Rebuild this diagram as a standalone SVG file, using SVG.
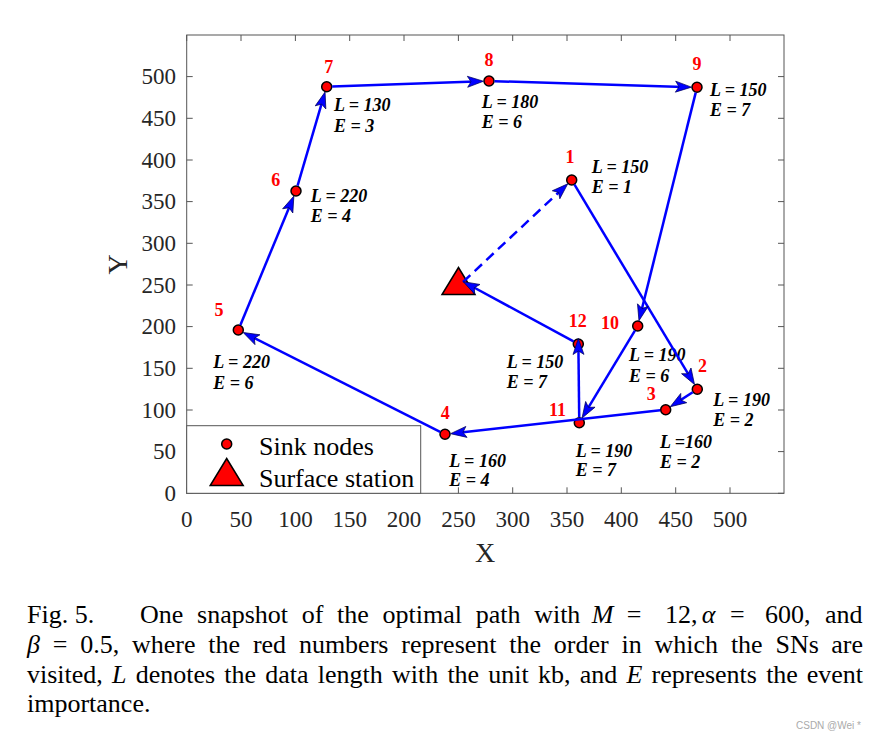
<svg xmlns="http://www.w3.org/2000/svg" width="875" height="740" viewBox="0 0 875 740">
<style>
.tick{stroke:#555;stroke-width:1;fill:none}
.tl{font-family:"Liberation Serif",serif;font-size:23px;fill:#262626}
.ax{font-family:"Liberation Serif",serif;font-size:28px;fill:#262626}
.lab{font-family:"Liberation Serif",serif;font-size:18px;font-weight:bold;font-style:italic;fill:#000}
.num{font-family:"Liberation Serif",serif;font-size:18px;font-weight:bold;fill:#ff0000;text-anchor:middle}
.node{fill:#ff0000;stroke:#000;stroke-width:1.5}
.conn{stroke:#0000ff;stroke-width:2.5;fill:none;marker-end:url(#ah)}
.leg{font-family:"Liberation Serif",serif;font-size:26px;fill:#000}
.cap{font-family:"Liberation Serif",serif;font-size:26px;fill:#000}
</style>
<defs>
<marker id="ah" markerUnits="userSpaceOnUse" viewBox="0 0 16 11" markerWidth="16" markerHeight="11" refX="8" refY="5.5" orient="auto" overflow="visible">
<path d="M0,0 L16,5.5 L0,11 L3.5,5.5 Z" fill="#0000ff" stroke="#00005a" stroke-width="0.7"/>
</marker>
</defs>
<rect width="875" height="740" fill="#fff"/>
<g id="axes">
<rect x="186.7" y="35" width="597.3" height="458.3" fill="#fff" stroke="#555" stroke-width="1"/>
<path class="tick" d="M186.7,493.3v-6M241,493.3v-6M295.4,493.3v-6M349.7,493.3v-6M404,493.3v-6M458.4,493.3v-6M512.7,493.3v-6M567,493.3v-6M621.3,493.3v-6M675.7,493.3v-6M730,493.3v-6
M186.7,35v6M241,35v6M295.4,35v6M349.7,35v6M404,35v6M458.4,35v6M512.7,35v6M567,35v6M621.3,35v6M675.7,35v6M730,35v6
M186.7,493.3h6M186.7,451.6h6M186.7,410h6M186.7,368.3h6M186.7,326.6h6M186.7,285h6M186.7,243.3h6M186.7,201.6h6M186.7,160h6M186.7,118.3h6M186.7,76.6h6
M784,493.3h-6M784,451.6h-6M784,410h-6M784,368.3h-6M784,326.6h-6M784,285h-6M784,243.3h-6M784,201.6h-6M784,160h-6M784,118.3h-6M784,76.6h-6"/>
<g class="tl" text-anchor="middle">
<text x="186.7" y="526.5">0</text><text x="241" y="526.5">50</text><text x="295.4" y="526.5">100</text><text x="349.7" y="526.5">150</text><text x="404" y="526.5">200</text><text x="458.4" y="526.5">250</text><text x="512.7" y="526.5">300</text><text x="567" y="526.5">350</text><text x="621.3" y="526.5">400</text><text x="675.7" y="526.5">450</text><text x="730" y="526.5">500</text>
</g>
<g class="tl" text-anchor="end">
<text x="176" y="501">0</text><text x="176" y="459.3">50</text><text x="176" y="417.7">100</text><text x="176" y="376">150</text><text x="176" y="334.3">200</text><text x="176" y="292.7">250</text><text x="176" y="251">300</text><text x="176" y="209.3">350</text><text x="176" y="167.7">400</text><text x="176" y="126">450</text><text x="176" y="84.3">500</text>
</g>
<text class="ax" x="485" y="562" text-anchor="middle">X</text>
<text class="ax" text-anchor="middle" transform="translate(127,264.5) rotate(-90)">Y</text>
</g>
<g id="station"><polygon points="458.5,267.5 442,294.5 475,294.5" class="node"/></g>
<g id="n1"><circle cx="571.7" cy="180" r="5" class="node"/><text class="num" x="570" y="163.3">1</text><text class="lab" x="591.7" y="172.7">L = 150</text><text class="lab" x="591.7" y="193.3">E = 1</text></g>
<g id="n2"><circle cx="697.3" cy="389.3" r="5" class="node"/><text class="num" x="702.5" y="372.3">2</text><text class="lab" x="713.3" y="405.7">L = 190</text><text class="lab" x="713.3" y="426">E = 2</text></g>
<g id="n3"><circle cx="665.7" cy="409.7" r="5" class="node"/><text class="num" x="651.2" y="400">3</text><text class="lab" x="660" y="448.3">L =160</text><text class="lab" x="660" y="468.3">E = 2</text></g>
<g id="n4"><circle cx="445" cy="434.3" r="5" class="node"/><text class="num" x="445.3" y="419.3">4</text><text class="lab" x="449.3" y="466.7">L = 160</text><text class="lab" x="449.3" y="486">E = 4</text></g>
<g id="n5"><circle cx="238.3" cy="330" r="5" class="node"/><text class="num" x="219" y="316">5</text><text class="lab" x="213.3" y="368.3">L = 220</text><text class="lab" x="213.3" y="389">E = 6</text></g>
<g id="n6"><circle cx="296" cy="191" r="5" class="node"/><text class="num" x="275.8" y="186">6</text><text class="lab" x="310.7" y="201.7">L = 220</text><text class="lab" x="310.7" y="221.7">E = 4</text></g>
<g id="n7"><circle cx="326.7" cy="86.7" r="5" class="node"/><text class="num" x="328.7" y="72.7">7</text><text class="lab" x="334" y="111">L = 130</text><text class="lab" x="334" y="131.7">E = 3</text></g>
<g id="n8"><circle cx="489" cy="81" r="5" class="node"/><text class="num" x="489" y="66">8</text><text class="lab" x="481.7" y="108.3">L = 180</text><text class="lab" x="481.7" y="128.3">E = 6</text></g>
<g id="n9"><circle cx="697" cy="87.3" r="5" class="node"/><text class="num" x="697" y="70">9</text><text class="lab" x="710" y="95.7">L = 150</text><text class="lab" x="710" y="116">E = 7</text></g>
<g id="n10"><circle cx="637.7" cy="326" r="5" class="node"/><text class="num" x="610" y="329">10</text><text class="lab" x="629" y="360.7">L = 190</text><text class="lab" x="629" y="381.7">E = 6</text></g>
<g id="n11"><circle cx="579.3" cy="422.7" r="5" class="node"/><text class="num" x="557.5" y="416">11</text><text class="lab" x="575.7" y="456.7">L = 190</text><text class="lab" x="575.7" y="476">E = 7</text></g>
<g id="n12"><circle cx="578.3" cy="344" r="5" class="node"/><text class="num" x="577.7" y="327.3">12</text><text class="lab" x="506.7" y="368.3">L = 150</text><text class="lab" x="506.7" y="388.3">E = 7</text></g>
<g id="connectors">
<line class="conn" x1="463" y1="282" x2="561.9" y2="189.3" stroke-dasharray="10 6"/>
<line class="conn" x1="574.5" y1="184.7" x2="690.4" y2="377.7"/>
<line class="conn" x1="692.7" y1="392.3" x2="677" y2="402.4"/>
<line class="conn" x1="660.2" y1="410.3" x2="458.5" y2="432.8"/>
<line class="conn" x1="440.1" y1="431.8" x2="250.3" y2="336.1"/>
<line class="conn" x1="240.4" y1="324.9" x2="290.8" y2="203.5"/>
<line class="conn" x1="297.6" y1="185.7" x2="322.8" y2="99.7"/>
<line class="conn" x1="332.2" y1="86.5" x2="475.5" y2="81.5"/>
<line class="conn" x1="494.5" y1="81.2" x2="683.5" y2="86.9"/>
<line class="conn" x1="695.7" y1="92.6" x2="640.9" y2="312.9"/>
<line class="conn" x1="634.9" y1="330.7" x2="586.2" y2="411.2"/>
<line class="conn" x1="579.2" y1="417.2" x2="578.4" y2="346.5"/>
<line class="conn" x1="573.5" y1="341.4" x2="470.3" y2="285.5"/>
</g>
<g id="legend">
<rect x="186.7" y="425.7" width="234" height="67.6" fill="#fff" stroke="#555" stroke-width="1"/>
<circle cx="226.7" cy="444" r="5" class="node"/>
<polygon points="226.7,458.5 210.2,485.5 243.2,485.5" class="node"/>
<text class="leg" x="259" y="454.5">Sink nodes</text>
<text class="leg" x="259" y="487">Surface station</text>
</g>
<g id="caption" class="cap">
<text x="27" y="623.3">Fig. 5.</text>
<text x="140" y="623.3" word-spacing="7.2">One snapshot of the optimal path with</text>
<text y="623.3"><tspan x="591.7" font-style="italic">M</tspan><tspan x="626.7">=</tspan><tspan x="665">12,</tspan><tspan x="701.7" font-style="italic">α</tspan><tspan x="730">=</tspan><tspan x="765">600,</tspan><tspan x="825">and</tspan></text>
<text x="27" y="653.3" word-spacing="6.3"><tspan font-style="italic">β</tspan> = 0.5, where the red numbers represent the order in which the SNs</text>
<text x="863" y="653.3" text-anchor="end">are</text>
<text x="27" y="683.3" word-spacing="2.7">visited, <tspan font-style="italic">L</tspan> denotes the data length with the unit kb, and <tspan font-style="italic">E</tspan> represents the</text>
<text x="863" y="683.3" text-anchor="end">event</text>
<text x="27" y="712">importance.</text>
</g>
<text x="796" y="729" font-family="Liberation Sans, sans-serif" font-size="10" fill="#aaa">CSDN @Wei *</text>
</svg>
